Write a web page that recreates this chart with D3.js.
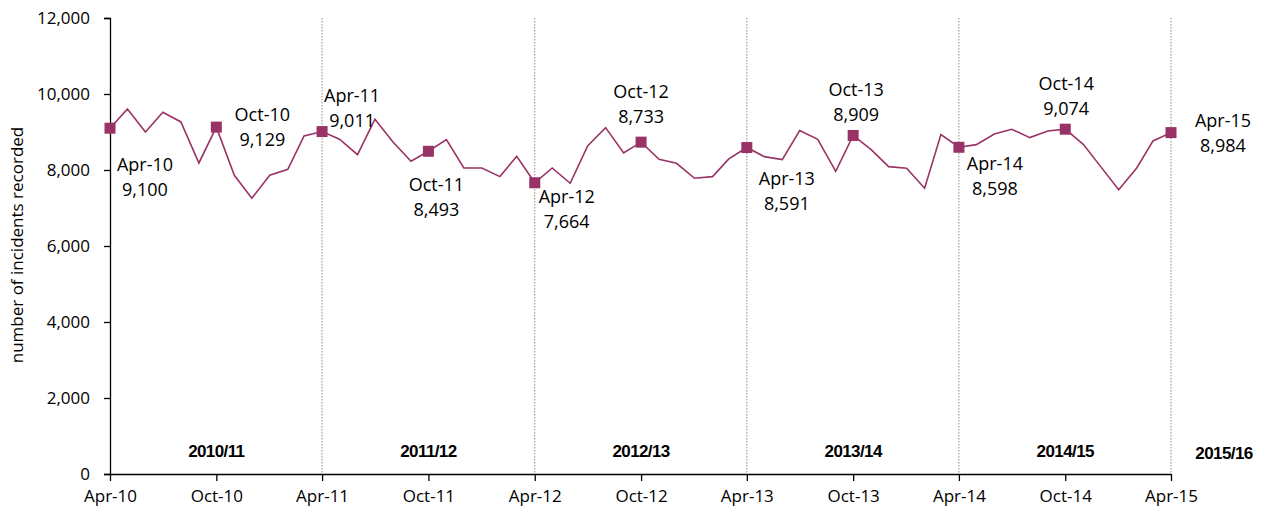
<!DOCTYPE html>
<html>
<head>
<meta charset="utf-8">
<script src="https://cdn.jsdelivr.net/npm/d3@7"></script>
<style>
  body { margin: 0; background: #fff; }
  text { font-family: "Open Sans", sans-serif; fill: #000; }
</style>
</head>
<body>
<div id="chart"></div>
<script>
// monthly incidents, Apr-10 .. Apr-15
var months = d3.range(61).map(function (i) { return new Date(2010, 3 + i, 1) })
var incidents = [
    9100, 9605, 9000, 9520, 9265, 8185, 9129, 7862, 7256, 7862, 8020, 8896,
    9011, 8809, 8405, 9335, 8738, 8230, 8493, 8800, 8054, 8054, 7826, 8361,
    7664, 8054, 7650, 8633, 9115, 8449, 8733, 8282, 8177, 7782, 7826, 8291,
    8591, 8352, 8273, 9036, 8809, 7966, 8909, 8536, 8089, 8045, 7519, 8931,
    8598, 8668, 8949, 9072, 8852, 9028, 9074, 8677, 8089, 7483, 8054, 8765,
    8984
]
var yTicks = [0, 2000, 4000, 6000, 8000, 10000, 12000]
var yearLabels = ["2010/11", "2011/12", "2012/13", "2013/14", "2014/15", "2015/16"]
// labelled points (index into months) and where their label centre sits, px from the point
var labelled = [0, 6, 12, 18, 24, 30, 36, 42, 48, 54, 60]
var labelOffset = [[35, 37], [46, -12], [30, -36], [8, 34], [32, 14], [0, -50],
                   [40, 31], [3, -45], [36, 17], [1, -45], [52, -12]]

var width = 1263, height = 513
var x0 = 110, x1 = 1171, yTop = 18, yBot = 474

var svg = d3.select("#chart")
    .append("svg")
    .attr("width", width)
    .attr("height", height)

var x = d3.scaleTime()
    .domain([months[0], months[60]])
    .range([x0, x1])

var y = d3.scaleLinear()
    .domain([0, 12000])
    .range([yBot, yTop])

var fmt = d3.format(",")
var monFmt = d3.timeFormat("%b-%y")

// dotted year separators
svg.selectAll(".sep")
    .data(d3.range(12, 61, 12))
    .enter().append("line")
    .attr("x1", function (i) { return x(months[i]) })
    .attr("x2", function (i) { return x(months[i]) })
    .attr("y1", yTop)
    .attr("y2", yBot)
    .attr("stroke", "#8c8c8c")
    .attr("stroke-width", 1)
    .attr("stroke-dasharray", "1.5,1.5")

// y axis
var yAxis = svg.append("g")
    .attr("transform", "translate(" + x0 + ",0)")
    .call(d3.axisLeft(y).tickValues(yTicks).tickFormat(fmt).tickSize(6).tickPadding(14))
yAxis.select(".domain").attr("stroke", "#000").attr("stroke-width", 1.3)
yAxis.selectAll(".tick line").attr("stroke", "#000").attr("stroke-width", 1.3)
yAxis.selectAll("text").style("font-size", "17px").style("font-family", "Open Sans")

// x axis
var xTickDates = d3.range(0, 61, 6).map(function (i) { return months[i] })
var xAxis = svg.append("g")
    .attr("transform", "translate(0," + yBot + ")")
    .call(d3.axisBottom(x).tickValues(xTickDates).tickFormat(monFmt).tickSize(7).tickSizeOuter(0).tickPadding(9))
xAxis.select(".domain").attr("stroke", "#000").attr("stroke-width", 1.3)
xAxis.selectAll(".tick line").attr("stroke", "#000").attr("stroke-width", 1.3)
xAxis.selectAll("text").style("font-size", "17px").style("font-family", "Open Sans")

// axis title
svg.append("text")
    .text("number of incidents recorded")
    .attr("transform", "translate(23,245) rotate(-90)")
    .attr("text-anchor", "middle")
    .style("font-size", "17px")

// financial year labels
svg.selectAll(".yr")
    .data(yearLabels)
    .enter().append("text")
    .text(function (d) { return d })
    .attr("x", function (d, i) { return i < 5 ? x(months[i * 12 + 6]) : x(months[60]) + 53 })
    .attr("y", function (d, i) { return i < 5 ? 457 : 459 })
    .attr("text-anchor", "middle")
    .style("font-family", "Liberation Sans, Arial, sans-serif")
    .style("font-weight", "bold")
    .style("font-size", "17px")
    .style("letter-spacing", "-0.6px")

// the line
var line = d3.line()
    .x(function (d, i) { return x(months[i]) })
    .y(function (d) { return y(d) })

svg.append("path")
    .datum(incidents)
    .attr("d", line)
    .attr("fill", "none")
    .attr("stroke", "#993366")
    .attr("stroke-width", 1.6)

// square markers
svg.selectAll(".mk")
    .data(labelled)
    .enter().append("rect")
    .attr("x", function (i) { return x(months[i]) - 5.5 })
    .attr("y", function (i) { return y(incidents[i]) - 5.5 })
    .attr("width", 11)
    .attr("height", 11)
    .attr("fill", "#993366")

// point labels
var lab = svg.selectAll(".lab")
    .data(labelled)
    .enter().append("text")
    .attr("text-anchor", "middle")
    .style("font-size", "18px")

lab.append("tspan")
    .attr("x", function (i, k) { return x(months[i]) + labelOffset[k][0] })
    .attr("y", function (i, k) { return y(incidents[i]) + labelOffset[k][1] + 6 })
    .text(function (i) { return monFmt(months[i]) })

lab.append("tspan")
    .attr("x", function (i, k) { return x(months[i]) + labelOffset[k][0] })
    .attr("y", function (i, k) { return y(incidents[i]) + labelOffset[k][1] + 31 })
    .text(function (i) { return fmt(incidents[i]) })
</script>
</body>
</html>
